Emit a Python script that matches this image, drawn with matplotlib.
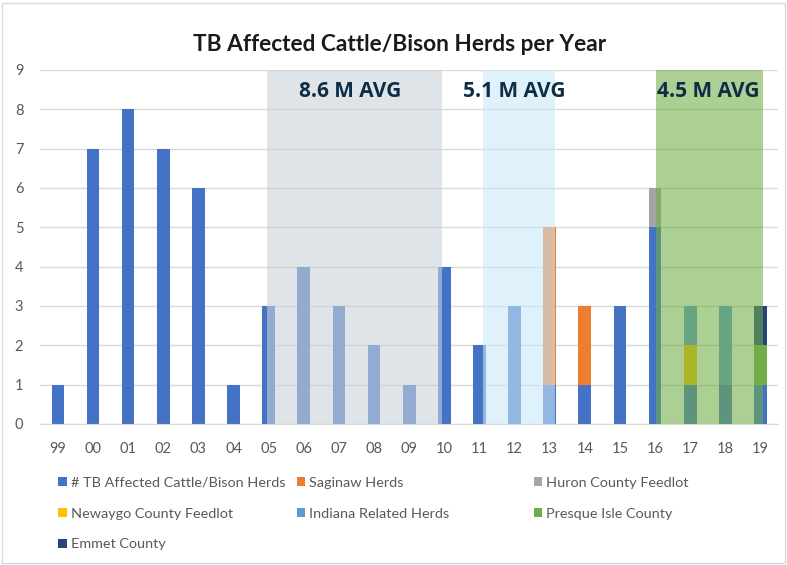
import matplotlib
matplotlib.use("Agg")
import matplotlib.pyplot as plt
from matplotlib.patches import Rectangle, Patch
import numpy as np

# ---------------- data ----------------
years = ['99', '00', '01', '02', '03', '04', '05', '06', '07', '08', '09',
         '10', '11', '12', '13', '14', '15', '16', '17', '18', '19']
tb_herds = [1, 7, 8, 7, 6, 1, 3, 4, 3, 2, 1, 4, 2, 3, 1, 1, 3, 5, 1, 1, 1]
saginaw = [0, 0, 0, 0, 0, 0, 0, 0, 0, 0, 0, 0, 0, 0, 4, 2, 0, 0, 0, 0, 0]
huron = [0, 0, 0, 0, 0, 0, 0, 0, 0, 0, 0, 0, 0, 0, 0, 0, 0, 1, 0, 0, 0]
newaygo = [0, 0, 0, 0, 0, 0, 0, 0, 0, 0, 0, 0, 0, 0, 0, 0, 0, 0, 1, 0, 0]
indiana = [0, 0, 0, 0, 0, 0, 0, 0, 0, 0, 0, 0, 0, 0, 0, 0, 0, 0, 1, 2, 0]
presque_isle = [0, 0, 0, 0, 0, 0, 0, 0, 0, 0, 0, 0, 0, 0, 0, 0, 0, 0, 0, 0, 1]
emmet = [0, 0, 0, 0, 0, 0, 0, 0, 0, 0, 0, 0, 0, 0, 0, 0, 0, 0, 0, 0, 1]

series_names = ['# TB Affected Cattle/Bison Herds', 'Saginaw Herds',
                'Huron County Feedlot', 'Newaygo County Feedlot',
                'Indiana Related Herds', 'Presque Isle County', 'Emmet County']
series_values = [tb_herds, saginaw, huron, newaygo, indiana, presque_isle, emmet]
series_colors = ['#4472C4', '#ED7D31', '#A5A5A5', '#FFC000',
                 '#5B9BD5', '#70AD47', '#264478']

avg_labels = ['8.6 M AVG', '5.1 M AVG', '4.5 M AVG']
y_ticks = list(range(0, 10))

# ---------------- figure ----------------
fig = plt.figure(figsize=(7.87, 5.65), dpi=100)
ax = fig.add_axes([0.0508, 0.2496, 0.9378, 0.6266])

x = np.arange(len(years))
bottom = np.zeros(len(years))
width = 0.36
for vals, col in zip(series_values, series_colors):
    v = np.array(vals, dtype=float)
    ax.bar(x, v, width, bottom=bottom, color=col, zorder=2, linewidth=0)
    bottom += v

# overlays (drawn on top of bars, semi transparent)
ax.axvspan(5.95, 10.93, ymin=0, ymax=1, color=(203/255, 210/255, 218/255),
           alpha=0.6, zorder=3, linewidth=0)
ax.axvspan(12.1, 14.14, ymin=0, ymax=1, color=(202/255, 233/255, 250/255),
           alpha=0.59, zorder=3, linewidth=0)
ax.axvspan(17.03, 20.08, ymin=0, ymax=1, color='#70AD47',
           alpha=0.58, zorder=3, linewidth=0)

txt_kw = dict(fontsize=15, fontweight='bold', color='#0E2D45',
              family=['Open Sans', 'DejaVu Sans'], ha='center', va='center',
              zorder=5)
ax.text(8.32, 8.45, avg_labels[0], **txt_kw)
ax.text(13.0, 8.45, avg_labels[1], **txt_kw)
ax.text(18.5, 8.45, avg_labels[2], **txt_kw)

ax.set_xlim(-0.51, 20.5)
ax.set_ylim(0, 9)
ax.set_yticks(y_ticks)
ax.set_xticks(x)
ax.set_xticklabels(years)
ax.yaxis.grid(True, color='#D9D9D9', linewidth=1.0, zorder=0)
ax.set_axisbelow(True)
for s in ['top', 'right', 'left']:
    ax.spines[s].set_visible(False)
ax.spines['bottom'].set_color('#D9D9D9')
ax.spines['bottom'].set_zorder(4)
ax.tick_params(axis='both', length=0, colors='#595959', labelsize=10.5)
ax.tick_params(axis='x', pad=13)
ax.tick_params(axis='y', pad=12)
for lab in ax.get_xticklabels() + ax.get_yticklabels():
    lab.set_family(['Lato', 'DejaVu Sans'])

fig.text(0.508, 0.922, 'TB Affected Cattle/Bison Herds per Year',
         ha='center', va='center', fontsize=16.3, fontweight='bold',
         color='#1a1a1a', family=['Lato', 'DejaVu Sans'])

# legend: three columns laid out like the original
handles = [Patch(facecolor=c, edgecolor='none') for c in series_colors]
columns = [[0, 3, 6], [1, 4], [2, 5]]
col_x = [0.074, 0.377, 0.678]
for cx, idxs in zip(col_x, columns):
    leg = fig.legend([handles[i] for i in idxs], [series_names[i] for i in idxs],
                     loc='upper left', bbox_to_anchor=(cx, 0.156),
                     frameon=False, handlelength=0.6, handleheight=0.6,
                     handletextpad=0.25, labelspacing=1.3, borderaxespad=0,
                     borderpad=0,
                     prop={'family': ['Lato', 'DejaVu Sans'], 'size': 10.4})
    for t in leg.get_texts():
        t.set_color('#595959')

# chart border
fig.add_artist(Rectangle((0.003, 0.004), 0.994, 0.991, transform=fig.transFigure,
                         fill=False, edgecolor='#D9D9D9', linewidth=1.0))

fig.savefig('out.png', dpi=100)
